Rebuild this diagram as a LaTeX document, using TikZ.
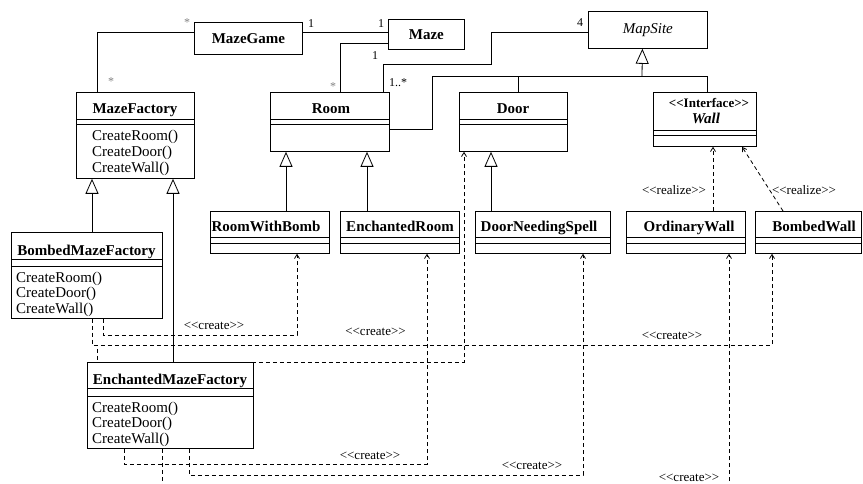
\documentclass[tikz,border=0pt]{standalone}
\usepackage{fontspec}
\setmainfont{Liberation Serif}
\usetikzlibrary{arrows.meta}

% horizontal compartment rule inside a class box, #2 below its top edge
\newcommand{\umlrule}[2]{\draw[link] ([yshift=-#2]#1.north west) -- ([yshift=-#2]#1.north east);}
% UML stereotype in doubled angle brackets (kept apart so they do not form guillemets)
\newcommand{\stereotype}[1]{<{}<#1>{}>}

\begin{document}
\begin{tikzpicture}[x=1pt, y=-1pt,
  cls/.style={draw, line width=0.8pt, inner sep=0pt, anchor=north west},
  box/.style={draw, line width=0.8pt, inner sep=0pt, anchor=north west,
              font=\fontsize{15}{18}\selectfont\bfseries},
  cname/.style={font=\fontsize{15}{18}\selectfont\bfseries, inner sep=0pt, anchor=base},
  op/.style={font=\fontsize{15}{18}\selectfont, inner sep=0pt, anchor=base west},
  stereo/.style={font=\fontsize{13}{15}\selectfont, inner sep=0pt, anchor=base},
  mult/.style={font=\fontsize{12}{14}\selectfont, inner sep=0pt, anchor=base},
  link/.style={line width=0.8pt},
  gen/.style={line width=0.8pt, -{Triangle[open, length=15pt, width=13pt]}},
  dep/.style={line width=0.8pt, dash pattern=on 4pt off 3pt,
              -{Straight Barb[length=4pt, width=5pt]}},
]
\useasboundingbox (0,0) rectangle (863,484);

% ---- simple classes
\node[box, minimum width=108pt, minimum height=32pt] (mazegame) at (194,22) {MazeGame};
\node[box, minimum width=76pt, minimum height=30pt] (maze) at (388,19) {Maze};
\node[box, minimum width=119pt, minimum height=37pt,
      font=\fontsize{15}{18}\selectfont\itshape] (mapsite) at (588,11) {MapSite};

% ---- MazeFactory
\node[cls, minimum width=118pt, minimum height=86pt] (mazefactory) at (76,92) {};
\umlrule{mazefactory}{27pt} \umlrule{mazefactory}{32pt}
\node[cname] (mazefactory-n) at (135,114) {MazeFactory};
\node[op] (mazefactory-o1) at (92,140.5) {CreateRoom()};
\node[op] (mazefactory-o2) at (92,156.5) {CreateDoor()};
\node[op] (mazefactory-o3) at (92,172.5) {CreateWall()};

% ---- Room, Door, Wall
\node[cls, minimum width=119pt, minimum height=59pt] (room) at (270,92) {};
\umlrule{room}{27pt} \umlrule{room}{32pt}
\node[cname] (room-n) at (331,114) {Room};

\node[cls, minimum width=108pt, minimum height=59pt] (door) at (459,92) {};
\umlrule{door}{27pt} \umlrule{door}{32pt}
\node[cname] (door-n) at (513,114) {Door};

\node[cls, minimum width=103pt, minimum height=54pt] (wall) at (653,92) {};
\umlrule{wall}{38pt} \umlrule{wall}{43pt}
\node[cname, font=\fontsize{13}{15}\selectfont\bfseries] (wall-s) at (709,108) {\stereotype{Interface}};
\node[cname, font=\fontsize{15}{18}\selectfont\bfseries\itshape] (wall-n) at (706,124) {Wall};

% ---- BombedMazeFactory
\node[cls, minimum width=151pt, minimum height=86pt] (bmf) at (11,232) {};
\umlrule{bmf}{27pt} \umlrule{bmf}{34pt}
\node[cname] (bmf-n) at (86.5,255) {BombedMazeFactory};
\node[op] (bmf-o1) at (16,283) {CreateRoom()};
\node[op] (bmf-o2) at (16,298) {CreateDoor()};
\node[op] (bmf-o3) at (16,313) {CreateWall()};

% ---- EnchantedMazeFactory
\node[cls, minimum width=166pt, minimum height=86pt] (emf) at (87,362) {};
\umlrule{emf}{26pt} \umlrule{emf}{34pt}
\node[cname] (emf-n) at (170,384) {EnchantedMazeFactory};
\node[op] (emf-o1) at (92,412) {CreateRoom()};
\node[op] (emf-o2) at (92,427) {CreateDoor()};
\node[op] (emf-o3) at (92,443) {CreateWall()};

% ---- concrete products
\node[cls, minimum width=119pt, minimum height=42pt] (rwb) at (210,211) {};
\umlrule{rwb}{26pt} \umlrule{rwb}{32pt}
\node[cname] (rwb-n) at (266,232) {RoomWithBomb};

\node[cls, minimum width=119pt, minimum height=42pt] (er) at (340,211) {};
\umlrule{er}{26pt} \umlrule{er}{32pt}
\node[cname] (er-n) at (400,232) {EnchantedRoom};

\node[cls, minimum width=135pt, minimum height=42pt] (dns) at (475,211) {};
\umlrule{dns}{26pt} \umlrule{dns}{32pt}
\node[cname] (dns-n) at (539,232) {DoorNeedingSpell};

\node[cls, minimum width=119pt, minimum height=42pt] (ow) at (626,211) {};
\umlrule{ow}{26pt} \umlrule{ow}{32pt}
\node[cname] (ow-n) at (689,232) {OrdinaryWall};

\node[cls, minimum width=106pt, minimum height=42pt] (bw) at (755,211) {};
\umlrule{bw}{26pt} \umlrule{bw}{32pt}
\node[cname] (bw-n) at (814,232) {BombedWall};

% ---- associations
\draw[link] ([yshift=6pt]mazegame.west) -| ([xshift=-38pt]mazefactory.north);
\draw[link] ([yshift=6pt]mazegame.east) -- ([yshift=6pt]mazegame.east -| maze.west);
\draw[link] ([yshift=-9pt]maze.west) -| ([xshift=10.5pt]room.north);
\draw[link] ([xshift=53.5pt]room.north) |- (491,64.5) |- ([yshift=-2.5pt]mapsite.west);

\node[mult, gray] (m-mg1) at (187,27) {*};
\node[mult, gray] (m-mf) at (111,86) {*};
\node[mult] (m-mg2) at (311,27.3) {1};
\node[mult] (m-mz1) at (381,27.3) {1};
\node[mult] (m-mz2) at (375,60) {1};
\node[mult, gray] (m-rm1) at (333,91) {*};
\node[mult] (m-rm2) at (398,86.7) {1..*};
\node[mult] (m-ms) at (580,26.7) {4};

% ---- generalisations
\coordinate (bus) at (642,76);
\draw[link] ([yshift=-7.5pt]room.east) -| (432,76) -- (bus);
\draw[link] ([xshift=5pt]door.north) |- (bus);
\draw[link] ([xshift=2.5pt]wall.north) |- (bus);
\draw[gen] (bus) -- ([xshift=-5.5pt]mapsite.south);

\draw[gen] ([xshift=76pt]rwb.north west) -- ([xshift=76pt]rwb.north west |- room.south);
\draw[gen] ([xshift=27pt]er.north west) -- ([xshift=27pt]er.north west |- room.south);
\draw[gen] ([xshift=16pt]dns.north west) -- ([xshift=16pt]dns.north west |- door.south);
\draw[gen] ([xshift=81pt]bmf.north west) -- ([xshift=81pt]bmf.north west |- mazefactory.south);
\draw[gen] ([xshift=86pt]emf.north west) -- ([xshift=86pt]emf.north west |- mazefactory.south);

% ---- realisations
\draw[dep] ([xshift=87pt]ow.north west) -- ([xshift=87pt]ow.north west |- wall.south);
\draw[dep] ([xshift=28pt]bw.north west) -- ([xshift=89pt]wall.south west);
\node[stereo] (r-ow) at (674,195) {\stereotype{realize}};
\node[stereo] (r-bw) at (804,195) {\stereotype{realize}};

% ---- create dependencies
\draw[dep] ([xshift=92pt]bmf.south west) |- (297,335) -- ([xshift=87pt]rwb.south west);
\draw[dep] ([xshift=81pt]bmf.south west) |- (772,345) -- ([xshift=17pt]bw.south west);
\draw[dep] ([xshift=81pt]bmf.south west) -- (92,345) -- (97,345) -- (97,362)
           -| ([xshift=5pt]door.south west);
\draw[dep] ([xshift=37pt]emf.south west) |- (427,464) -- ([xshift=87pt]er.south west);
\draw[dep] ([xshift=102pt]emf.south west) |- (583,475) -- ([xshift=108pt]dns.south west);
\begin{scope}
  \clip (0,0) rectangle (863,484);
  \draw[dep] ([xshift=75pt]emf.south west) |- (729,500) -- ([xshift=103pt]ow.south west);
\end{scope}

\node[stereo] (c-rwb) at (214,329.5) {\stereotype{create}};
\node[stereo] (c-door) at (375.5,335) {\stereotype{create}};
\node[stereo] (c-bw) at (672,339) {\stereotype{create}};
\node[stereo] (c-er) at (370,459) {\stereotype{create}};
\node[stereo] (c-dns) at (532,469) {\stereotype{create}};
\node[stereo] (c-ow) at (689,481) {\stereotype{create}};
\end{tikzpicture}
\end{document}
